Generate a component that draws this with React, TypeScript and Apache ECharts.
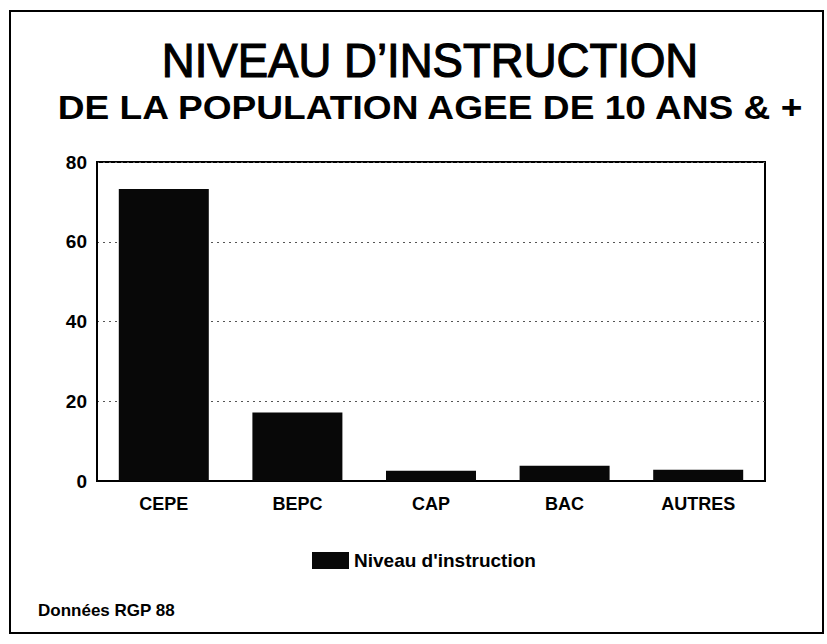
import React, { useEffect, useRef } from "react";
import * as echarts from "echarts";

const categories = ["CEPE", "BEPC", "CAP", "BAC", "AUTRES"];
const values = [73.2, 17.2, 2.6, 3.8, 2.8];
const seriesName = "Niveau d'instruction";
const titleLine1 = "NIVEAU D\u2019INSTRUCTION";
const titleLine2 = "DE LA POPULATION AGEE DE 10 ANS & +";
const footer = "Donn\u00e9es RGP 88";

const FONT = "'Liberation Sans', Arial, Helvetica, sans-serif";

export default function App() {
  const ref = useRef<HTMLDivElement>(null);
  useEffect(() => {
    if (!ref.current) return;
    const chart = echarts.init(ref.current, null, { renderer: "svg" });
    chart.setOption({
      animation: false,
      backgroundColor: "#ffffff",
      textStyle: { fontFamily: FONT },
      grid: {
        left: 97,
        right: 62,
        top: 162,
        bottom: 163,
        show: true,
        borderColor: "#000",
        borderWidth: 2,
        backgroundColor: "transparent",
      },
      legend: {
        left: 307,
        top: 546,
        itemWidth: 37,
        itemHeight: 17,
        itemGap: 5,
        icon: "rect",
        textStyle: { fontFamily: FONT, fontWeight: "bold", fontSize: 19, color: "#000" },
        data: [seriesName],
      },
      xAxis: {
        type: "category",
        data: categories,
        axisLine: { show: true, lineStyle: { color: "#000", width: 2 } },
        axisTick: { show: false },
        axisLabel: { fontFamily: FONT, fontWeight: "bold", fontSize: 18, color: "#000", margin: 14 },
      },
      yAxis: {
        type: "value",
        min: 0,
        max: 80,
        interval: 20,
        axisLine: { show: true, lineStyle: { color: "#000", width: 2 } },
        axisTick: { show: false },
        axisLabel: { fontFamily: FONT, fontWeight: "bold", fontSize: 19, color: "#000", margin: 10 },
        splitLine: { show: true, lineStyle: { color: "#555", width: 1, type: [2, 4] } },
      },
      series: [
        {
          name: seriesName,
          type: "bar",
          data: values,
          barWidth: 90,
          itemStyle: { color: "#080808" },
        },
      ],
      graphic: [
        {
          type: "rect",
          shape: { x: 10, y: 11, width: 813, height: 622 },
          style: { fill: "none", stroke: "#000", lineWidth: 2 },
          silent: true,
        },
        {
          type: "text",
          x: 430,
          y: 60,
          scaleX: 0.93,
          style: {
            text: titleLine1,
            x: 0,
            y: 0,
            align: "center",
            verticalAlign: "middle",
            fontFamily: FONT,
            fontSize: 49,
            fontWeight: "normal",
            fill: "#000",
            stroke: "#000",
            lineWidth: 1.2,
          },
        },
        {
          type: "text",
          x: 430,
          y: 107,
          scaleX: 1.125,
          style: {
            text: titleLine2,
            x: 0,
            y: 0,
            align: "center",
            verticalAlign: "middle",
            fontFamily: FONT,
            fontSize: 33,
            fontWeight: "bold",
            fill: "#000",
          },
        },
        {
          type: "text",
          x: 38,
          y: 610,
          style: {
            text: footer,
            x: 0,
            y: 0,
            align: "left",
            verticalAlign: "middle",
            fontFamily: FONT,
            fontSize: 17,
            fontWeight: "bold",
            fill: "#000",
          },
        },
      ],
    });
    return () => chart.dispose();
  }, []);
  return (
    <div
      ref={ref}
      style={{ position: "fixed", left: 0, top: 0, width: 827, height: 644, background: "#fff" }}
    />
  );
}
